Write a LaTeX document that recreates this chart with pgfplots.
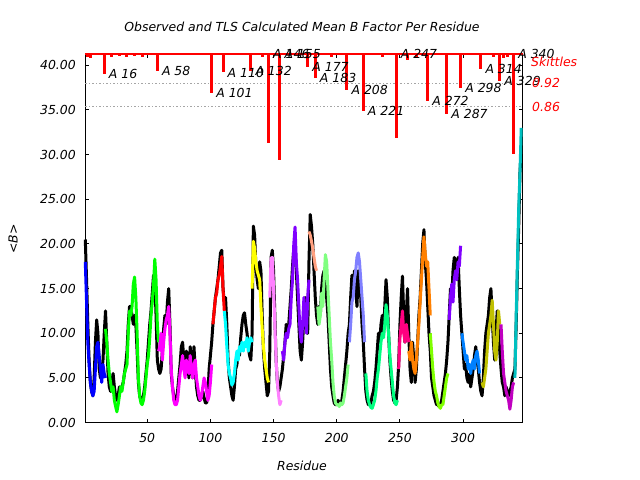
\documentclass[border=0pt]{standalone}
\usepackage{fontspec}
\setmainfont{DejaVu Sans}
\usepackage{pgfplots}
\pgfplotsset{compat=1.18}
\definecolor{cBlue}{RGB}{0,0,255}
\definecolor{cGreen}{RGB}{0,255,0}
\definecolor{cMag}{RGB}{255,0,255}
\definecolor{cRed}{RGB}{255,0,0}
\definecolor{cCyan}{RGB}{0,255,255}
\definecolor{cYel}{RGB}{255,255,0}
\definecolor{cPink}{RGB}{255,128,255}
\definecolor{cPurp}{RGB}{128,0,255}
\definecolor{cSalm}{RGB}{255,160,128}
\definecolor{cLGr}{RGB}{128,255,128}
\definecolor{cLav}{RGB}{128,128,255}
\definecolor{cSpr}{RGB}{0,255,128}
\definecolor{cDPk}{RGB}{255,0,128}
\definecolor{cOra}{RGB}{255,128,0}
\definecolor{cYG}{RGB}{128,255,0}
\definecolor{cDod}{RGB}{0,128,255}
\definecolor{cOli}{RGB}{192,192,0}
\definecolor{cMg2}{RGB}{192,0,192}
\definecolor{cTeal}{RGB}{0,192,192}
\begin{document}
\begin{tikzpicture}[font=\fontsize{12.5}{15}\selectfont\itshape]
\useasboundingbox (0,0) rectangle (640bp,480bp);
\begin{axis}[
  at={(85.3bp,57.4bp)}, anchor=south west,
  scale only axis, width=437.2bp, height=368.6bp,
  xmin=1, xmax=347, ymin=0, ymax=41.27,
  xtick={50,100,...,300}, ytick={0,5,...,40},
  /pgf/number format/assume math mode=true,
  ticklabel style={font=\fontsize{12.5}{15}\selectfont\itshape},
  yticklabel style={/pgf/number format/.cd, fixed, fixed zerofill, precision=2, /tikz/.cd, xshift=-6bp},
  xticklabel style={yshift=-7bp},
  tick align=inside, major tick length=4bp,
  axis line style={line width=1bp}, every tick/.style={black, line width=1bp},
  clip=false,
  line join=round,
]
% dotted reference lines
\addplot[gray!70, line width=0.8bp, dash pattern=on 1.5bp off 2bp] coordinates {(1,38.0) (347,38.0)};
\addplot[gray!70, line width=0.8bp, dash pattern=on 1.5bp off 2bp] coordinates {(1,35.45) (347,35.45)};
% observed
\addplot[black, line width=3bp] table {
1 20.5
2 16
3 11
4 7
5 4.5
6 3.5
7 3
8 5
9 9
10 11.5
11 10
12 6
13 5
14 5.5
15 7
16 10
17 12.5
18 9
19 5.5
20 4
21 3.5
22 4.5
23 5.5
24 4
25 3
26 2.5
27 3
28 4
29 3.5
30 4
31 4.5
32 5.5
33 6.5
34 8
35 11
36 13
37 13
38 12
39 11
40 12
41 11
42 8
43 4.5
44 3
45 2.5
46 2.5
47 3
48 4
49 5.5
50 7
51 9
52 11
53 12.5
54 14.5
55 16.5
56 16
57 12
58 7
59 6
60 5.5
61 6
62 8
63 10.5
64 12
65 11
66 13.5
67 15
68 11
69 5.5
70 4
71 3
72 2.5
73 2.5
74 3.5
75 5
76 6.5
77 8.5
78 9
79 7
80 6
81 8
82 7
83 5
84 8.5
85 7
86 5
87 8.5
88 6
89 4
90 3
91 2.5
92 2.5
93 3
94 3.5
95 2.8
96 2.2
97 2.2
98 3
99 6
100 7.5
101 9
102 11
103 12.5
104 14
105 15
106 16
107 17.5
108 19
109 19.3
110 15
111 13.5
112 14
113 11
114 7
115 5
116 4
117 3
118 2.5
119 4
120 6
121 6.5
122 8
123 7.5
124 9.5
125 11
126 12
127 12.3
128 11
129 10
130 8.5
131 7.5
132 7
133 10
134 22
135 21
136 17.5
137 16
138 15
139 18
140 17
141 12
142 8
143 6
144 4.5
145 3
146 3.5
147 8
148 18.5
149 19.3
150 17
151 12
152 7
153 4.5
154 3.5
155 4
156 5
157 6
158 7.5
159 9
160 11
161 10
162 11
163 13
164 15
165 17.5
166 19.5
167 20
168 17
169 14
170 11
171 8
172 7
173 9
174 12
175 14
176 11
177 10
178 18
179 23.3
180 22
181 20
182 17
183 14
184 12
185 11
186 13
187 12
188 15
189 16.5
190 17
191 16
192 14
193 12
194 9
195 6
196 4
197 3
198 2.2
199 2
200 2
201 2.5
202 2.2
203 2
204 2.5
205 3.5
206 5
207 6.5
208 8
209 10
210 11
211 14
212 16.5
213 15
214 17
215 15
216 13
217 17
218 16
219 14
220 11
221 9
222 6
223 3.5
224 2.5
225 2
226 2
227 2.2
228 3
229 3.5
230 4.5
231 6
232 8
233 10
234 9
235 11
236 12
237 10
238 13
239 16
240 14
241 10
242 7
243 5
244 3.5
245 2.5
246 2.2
247 2.5
248 4
249 6.5
250 11
251 14
252 16.4
253 12
254 9
255 12
256 15
257 10
258 6
259 4.5
260 9
261 7
262 4.5
263 6
264 9
265 12
266 14
267 17
268 20
269 21.6
270 18
271 16
272 13
273 10
274 8
275 5
276 4
277 3
278 2.5
279 2
280 2
281 1.8
282 2
283 2.5
284 3.5
285 4.5
286 5.5
287 7
288 9
289 12
290 15
291 14
292 17
293 18.5
294 18
295 16
296 18.5
297 15
298 12
299 10
300 8
301 6
302 6.5
303 5
304 4.5
305 5.5
306 4
307 5
308 6
309 7.5
310 8.5
311 7
312 6
313 4.5
314 3.5
315 3
316 5
317 8
318 10
319 11
320 12
321 14
322 15
323 12
324 9
325 7
326 10
327 12.5
328 10
329 8
330 6
331 4.5
332 4
333 3
334 4
335 3.5
336 3
337 3.5
338 4
339 5
340 5.5
341 6
342 11
343 17
344 22
345 28
346 30.5
};
% TLS calculated, by group
\addplot[cBlue, line width=3bp] table {
1 18
2 13.5
3 9
4 6.5
5 4.5
6 3.5
7 3
8 3.5
9 6
10 8.5
11 9
12 7.5
13 6
14 4.5
15 6.5
16 5.5
17 5
};
\addplot[cGreen, line width=3bp] table {
17 10.5
18 9
19 7
20 5.5
21 4.5
22 3.5
23 4
24 2.5
25 1.8
26 1.2
27 2
28 3
29 4
30 3.5
31 4.5
32 5.5
33 6
34 6.5
35 10
36 12.5
37 12
38 13
39 15.5
40 16.3
41 14
42 10
43 5
44 3
45 2.2
46 2
47 2.5
48 3.5
49 5
50 6.5
51 7.5
52 9.5
53 12
54 13.5
55 15.5
56 18.3
57 16
58 11
59 9
};
\addplot[cMag, line width=3bp] table {
59 8
60 8.5
61 10
62 7
63 9
64 10.5
65 11.5
66 12
67 13
68 10
69 6
70 4
71 2.5
72 2
73 2
74 2.5
75 4
76 5.5
77 6.5
78 7.5
79 6
80 5
81 7
82 6
83 5.5
84 7.5
85 6
86 5
87 6.5
88 7
89 5
90 4
91 3
92 2.5
93 3
94 4
95 5
96 4.5
97 3.5
98 2.5
99 3
100 4.5
101 6.5
};
\addplot[cRed, line width=3bp] table {
102 11
103 12.5
104 14
105 14.5
106 16
107 16.5
108 17.5
109 18.6
110 15
111 12.5
};
\addplot[cCyan, line width=3bp] table {
111 12.5
112 11
113 8.5
114 6.5
115 5.5
116 5
117 4.2
118 4.5
119 5.5
120 7
121 8
122 7
123 8.5
124 8
125 9
126 8
127 9
128 8.5
129 9.5
130 8
131 9
132 9.5
133 9
};
\addplot[cYel, line width=3bp] table {
133 15
134 20.3
135 19.5
136 18
137 17
138 16.5
139 16
140 13
141 10.5
142 8.5
143 7
144 6
145 5
146 4.5
};
\addplot[cPink, line width=3bp] table {
147 14
148 18.4
149 18.5
150 15
151 11
152 7
153 4.5
154 3
155 2
156 2.5
};
\addplot[cPurp, line width=3bp] table {
157 8
158 7
159 9
160 10
161 9.5
162 10.5
163 11
164 14
165 16
166 20
167 21.9
168 18
169 16
170 13
171 10
172 9
173 11
174 14
175 12
176 10
177 14
178 16
};
\addplot[cSalm, line width=3bp] table {
178 21.4
179 21
180 20.3
181 19.5
182 18.5
183 17.5
184 17
};
\addplot[cLGr, line width=3bp] table {
185 13
186 11
187 12
188 14.5
189 13
190 16
191 18.8
192 18
193 15
194 12
195 9
196 7
197 4.5
198 3
199 2.2
200 2
201 2
202 1.8
203 2.2
204 2
205 2.2
206 3
207 4
208 5
209 6.5
};
\addplot[cLav, line width=3bp] table {
210 9
211 11
212 13.5
213 14
214 16
215 17
216 18.5
217 19
218 18
219 16
220 14
221 12
222 9
};
\addplot[cSpr, line width=3bp] table {
223 5.5
224 3.5
225 2.5
226 2
227 1.7
228 1.6
229 2
230 2.5
231 3.5
232 5
233 6
234 7.5
235 9
236 10
237 9.5
238 11
239 13.2
240 12
241 10
242 7.5
243 6
244 4.5
245 3
246 2.2
247 2
248 2.5
};
\addplot[cDPk, line width=3bp] table {
249 6
250 9.5
251 11
252 12.5
253 10
254 9
255 11
256 10
257 9
};
\addplot[cOra, line width=3bp] table {
257 8
258 7
259 9
260 7
261 6
262 5.5
263 7
264 9
265 11
266 13.5
267 16
268 18.5
269 20.8
270 19
271 17.5
272 18
273 15
274 12
};
\addplot[cYG, line width=3bp] table {
274 10
275 8
276 6
277 4.5
278 3.5
279 3
280 2.2
281 1.8
282 1.6
283 2
284 2
285 3
286 4
287 5
288 5.5
};
\addplot[cPurp, line width=3bp] table {
289 11.5
290 14
291 15.5
292 13.5
293 16
294 17
295 16
296 18
297 17.5
298 19.8
};
\addplot[cDod, line width=3bp] table {
299 10
300 9
301 8
302 7
303 7.5
304 6
305 6.5
306 5.5
307 6.5
308 7
309 6
310 7.5
311 8
312 7
313 5.5
};
\addplot[cOli, line width=3bp] table {
315 4.5
316 4
317 5
318 6
319 8
320 10
321 11
322 12
323 13.7
324 11
325 8
326 7
327 9
328 12.5
329 11
};
\addplot[cMg2, line width=3bp] table {
330 11
331 8
332 5.5
333 4.5
334 3.5
335 3
336 2.5
337 1.5
338 2.5
339 4
340 4.5
};
\addplot[cTeal, line width=3bp] table {
341 5
342 12
343 18
344 24
345 28
346 33
};
% skittles: red lines hanging from the top
\addplot[red, line width=2.5bp] coordinates {(1,41.27) (347,41.27)};
\addplot[red, line width=3bp, unbounded coords=jump] coordinates {
(3,41.27) (3,40.9) (3,nan)
(5,41.27) (5,40.8) (5,nan)
(16,41.27) (16,39.0) (16,nan)
(22,41.27) (22,40.9) (22,nan)
(28,41.27) (28,41.0) (28,nan)
(34,41.27) (34,40.9) (34,nan)
(40,41.27) (40,41.0) (40,nan)
(46,41.27) (46,40.9) (46,nan)
(58,41.27) (58,39.4) (58,nan)
(101,41.27) (101,36.9) (101,nan)
(110,41.27) (110,39.2) (110,nan)
(132,41.27) (132,39.4) (132,nan)
(141,41.27) (141,40.9) (141,nan)
(146,41.27) (146,31.3) (146,nan)
(155,41.27) (155,29.4) (155,nan)
(177,41.27) (177,39.8) (177,nan)
(183,41.27) (183,38.6) (183,nan)
(196,41.27) (196,40.9) (196,nan)
(208,41.27) (208,37.2) (208,nan)
(221,41.27) (221,34.9) (221,nan)
(236,41.27) (236,40.9) (236,nan)
(247,41.27) (247,31.9) (247,nan)
(256,41.27) (256,40.6) (256,nan)
(263,41.27) (263,40.9) (263,nan)
(272,41.27) (272,36.05) (272,nan)
(287,41.27) (287,34.55) (287,nan)
(298,41.27) (298,37.5) (298,nan)
(314,41.27) (314,39.6) (314,nan)
(324,41.27) (324,40.9) (324,nan)
(329,41.27) (329,38.2) (329,nan)
(332,41.27) (332,40.8) (332,nan)
(335,41.27) (335,40.9) (335,nan)
(340,41.27) (340,30.1)
};
\begin{scope}[every node/.style={anchor=west, inner sep=0pt, xshift=4.5bp}]
\node at (axis cs:16,39.0) {A 16};
\node at (axis cs:58,39.4) {A 58};
\node at (axis cs:101,36.9) {A 101};
\node at (axis cs:110,39.2) {A 110};
\node at (axis cs:132,39.4) {A 132};
\node at (axis cs:146,41.27) {A 146};
\node at (axis cs:155,41.27) {A 155};
\node at (axis cs:177,39.8) {A 177};
\node at (axis cs:183,38.6) {A 183};
\node at (axis cs:208,37.2) {A 208};
\node at (axis cs:221,34.9) {A 221};
\node at (axis cs:247,41.27) {A 247};
\node at (axis cs:272,36.05) {A 272};
\node at (axis cs:287,34.55) {A 287};
\node at (axis cs:298,37.5) {A 298};
\node at (axis cs:314,39.6) {A 314};
\node at (axis cs:329,38.2) {A 329};
\node at (axis cs:340,41.27) {A 340};
\end{scope}
\end{axis}
\node[text=red, anchor=west, inner sep=0pt] at (531bp,418bp) {Skittles};
\node[text=red, anchor=west, inner sep=0pt] at (532bp,396.7bp) {0.92};
\node[text=red, anchor=west, inner sep=0pt] at (532bp,373.5bp) {0.86};
\node at (302bp,453bp) {Observed and TLS Calculated Mean B Factor Per Residue};
\node at (302bp,14bp) {Residue};
\node[rotate=90] at (13bp,241bp) {<B>};
\end{tikzpicture}
\end{document}
